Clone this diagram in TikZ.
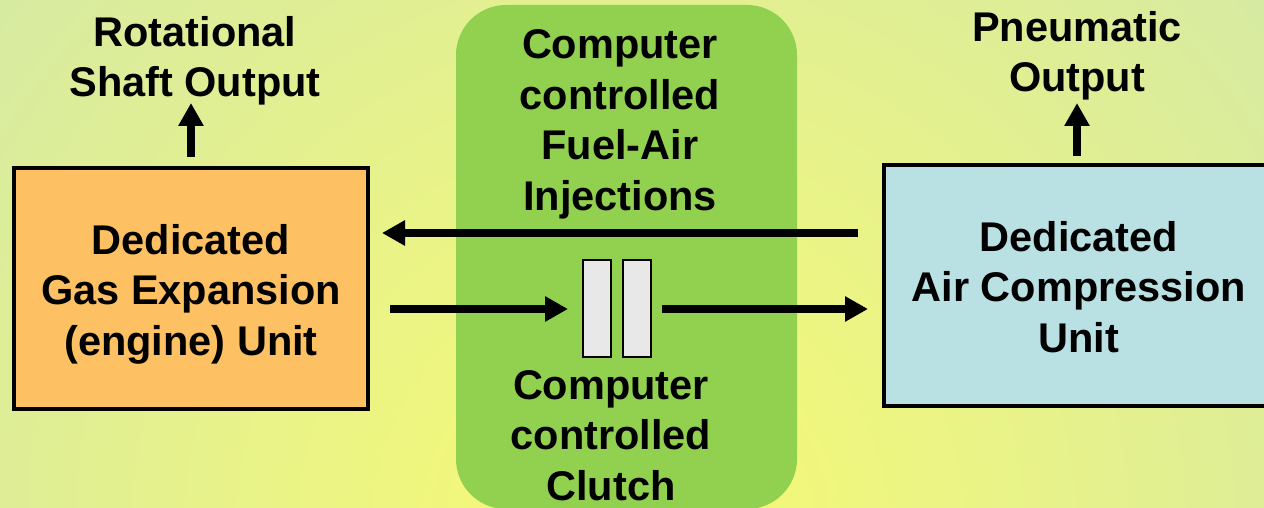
\documentclass[tikz,border=0pt]{standalone}
\usepackage{fontspec}
\setmainfont{Liberation Sans}
\usetikzlibrary{arrows.meta}
\definecolor{bgout}{HTML}{D6EAA2}
\definecolor{bgin}{HTML}{F8FA72}
\definecolor{engfill}{HTML}{FDC163}
\definecolor{compfill}{HTML}{B9E0E2}
\definecolor{ctrlfill}{HTML}{92D050}
\definecolor{platefill}{HTML}{E8E8E8}
\tikzset{
  lbl/.style={font=\fontsize{41.5}{50.5}\selectfont\bfseries, align=center, anchor=base, inner sep=0pt},
  unitbox/.style={draw=black, line width=4.5pt, inner sep=0pt, outer sep=0pt, anchor=north west},
  plate/.style={draw=black, line width=1.5pt, fill=platefill, inner sep=0pt, outer sep=0pt, minimum width=28pt, minimum height=97pt, anchor=north west},
  arr/.style={line width=8pt, -{Triangle[width=24pt,length=23pt]}},
}
\begin{document}
\begin{tikzpicture}[x=1pt,y=-1pt]
\useasboundingbox (0,0) rectangle (1264,508);
\clip (0,0) rectangle (1264,508);
\shade[inner color=bgin, outer color=bgout] (630,530) ++(-840,-840) rectangle ++(1680,1680);
% central control region
\node[fill=ctrlfill, rounded corners=50pt, inner sep=0pt, outer sep=0pt, minimum width=341pt, minimum height=504pt, anchor=north west] (ctrl) at (456,5) {};
% units
\node[unitbox, fill=engfill, minimum width=354pt, minimum height=241pt] (lbox) at (14,168) {};
\node[unitbox, fill=compfill, minimum width=420pt, minimum height=241pt] (rbox) at (884,165) {};
% clutch plates
\node[plate] (c1) at (583,260) {};
\node[plate] (c2) at (623,260) {};
% texts (anchor = baseline of last line)
\node[lbl] (ltxt) at (191,355) {Dedicated\\Gas Expansion\\(engine) Unit};
\node[lbl] (rtxt) at (1079,352) {Dedicated\\Air Compression\\Unit};
\node[lbl] (shaft) at (195,97) {Rotational\\Shaft Output};
\node[lbl] (pneu) at (1077,92) {Pneumatic\\Output};
\node[lbl] (fuel) at (620,210) {Computer\\controlled\\Fuel-Air\\Injections};
\node[lbl] (clutch) at (611,500) {Computer\\controlled\\Clutch};
% connectors
\draw[arr] ([yshift=11pt]lbox.north) -- ++(0,-54);
\draw[arr] ([yshift=9pt]rbox.north -| pneu.base) -- ++(0,-53);
\draw[arr] ([xshift=-26pt]rbox.west |- 0,233) -- ([xshift=14pt]lbox.east |- 0,233);
\draw[arr] ([xshift=22pt]lbox.east |- 0,309) -- ([xshift=-15pt]c1.west |- 0,309);
\draw[arr] ([xshift=11pt]c2.east |- 0,309) -- ([xshift=-16pt]rbox.west |- 0,309);
\end{tikzpicture}
\end{document}
